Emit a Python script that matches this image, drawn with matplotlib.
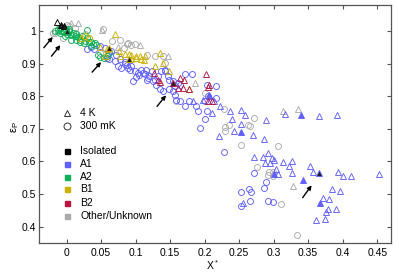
import matplotlib
matplotlib.use("Agg")
import matplotlib.pyplot as plt
from matplotlib.ticker import FuncFormatter

plt.rcParams['font.family'] = ['Liberation Sans', 'DejaVu Sans']
plt.rcParams['mathtext.fontset'] = 'custom'
plt.rcParams['mathtext.rm'] = 'Liberation Sans'
plt.rcParams['mathtext.it'] = 'Liberation Sans:italic'

# ---- data ----
# A2 (green)
a2_circ_x = [-0.017, -0.013, -0.010, -0.007, -0.004, -0.001, 0.000, 0.003, 0.006, 0.009,
             0.012, 0.014, 0.017, 0.020, 0.023, 0.026, 0.029, 0.032, 0.035, 0.038,
             0.041, 0.043, 0.019, 0.013, 0.030, 0.049, 0.054, 0.058, 0.062, 0.046,
             0.007, 0.025, 0.036, -0.003, 0.004, -0.010]
a2_circ_y = [0.999, 1.005, 0.993, 1.002, 0.996, 1.005, 0.990, 0.999, 0.987, 0.993,
             0.984, 0.990, 0.981, 0.974, 0.984, 0.971, 0.978, 0.965, 0.968, 0.959,
             0.962, 0.956, 0.965, 0.974, 1.002, 0.922, 0.916, 0.925, 0.934, 0.928,
             0.974, 0.962, 0.953, 0.984, 1.005, 1.008]
a2_tri_x = [-0.012, -0.006, 0.002, 0.008, 0.016]
a2_tri_y = [1.003, 0.999, 0.996, 0.990, 0.985]

# A1 (blue)
a1_circ_x = [0.029, 0.048, 0.055, 0.065, 0.072, 0.077, 0.084, 0.089, 0.094, 0.099,
             0.103, 0.108, 0.113, 0.118, 0.123, 0.125, 0.132, 0.130, 0.143, 0.147,
             0.154, 0.161, 0.164, 0.171, 0.181, 0.157, 0.159, 0.172, 0.188, 0.190,
             0.193, 0.154, 0.135, 0.116, 0.096, 0.074, 0.079, 0.058, 0.062, 0.070,
             0.142, 0.128, 0.149, 0.149, 0.157, 0.178, 0.200, 0.205, 0.217, 0.164,
             0.140, 0.137, 0.203, 0.216, 0.203, 0.200, 0.228, 0.271, 0.289, 0.286,
             0.252, 0.264, 0.267, 0.252, 0.266, 0.292, 0.299, 0.085, 0.092, 0.105,
             0.110, 0.120, 0.101, 0.115, 0.087, 0.060, 0.040, 0.035]
a1_circ_y = [0.946, 0.954, 0.949, 0.938, 0.928, 0.913, 0.898, 0.887, 0.892, 0.877,
             0.872, 0.882, 0.867, 0.857, 0.877, 0.846, 0.862, 0.836, 0.877, 0.862,
             0.846, 0.841, 0.836, 0.867, 0.867, 0.805, 0.790, 0.769, 0.769, 0.754,
             0.703, 0.815, 0.821, 0.850, 0.846, 0.892, 0.887, 0.918, 0.913, 0.908,
             0.882, 0.851, 0.851, 0.821, 0.831, 0.785, 0.785, 0.800, 0.795, 0.785,
             0.815, 0.877, 0.836, 0.831, 0.755, 0.730, 0.628, 0.566, 0.538, 0.520,
             0.507, 0.515, 0.505, 0.464, 0.480, 0.480, 0.476, 0.905, 0.880, 0.865,
             0.870, 0.862, 0.860, 0.880, 0.895, 0.930, 0.944, 0.950]
a1_tri_x = [0.198, 0.222, 0.237, 0.253, 0.259, 0.211, 0.289, 0.317, 0.366, 0.392,
            0.240, 0.253, 0.242, 0.270, 0.183, 0.214, 0.221, 0.286, 0.271, 0.285,
            0.292, 0.297, 0.301, 0.287, 0.294, 0.314, 0.322, 0.327, 0.326, 0.303,
            0.307, 0.352, 0.357, 0.393, 0.401, 0.412, 0.452, 0.384, 0.396, 0.372,
            0.380, 0.379, 0.376, 0.390, 0.361, 0.375, 0.255, 0.207]
a1_tri_y = [0.790, 0.769, 0.754, 0.759, 0.744, 0.749, 0.726, 0.747, 0.741, 0.742,
            0.730, 0.716, 0.692, 0.680, 0.785, 0.785, 0.677, 0.669, 0.615, 0.615,
            0.626, 0.610, 0.605, 0.595, 0.595, 0.598, 0.587, 0.603, 0.564, 0.578,
            0.562, 0.587, 0.567, 0.569, 0.554, 0.554, 0.563, 0.515, 0.511, 0.487,
            0.484, 0.454, 0.446, 0.454, 0.421, 0.423, 0.474, 0.800]
a1_fill_x = [0.207, 0.253, 0.340, 0.343, 0.367, 0.301]
a1_fill_y = [0.805, 0.689, 0.742, 0.542, 0.474, 0.562]

# B1 (yellow)
b1_tri_x = [0.070, 0.021, 0.076, 0.084, 0.094, 0.101, 0.108, 0.112, 0.135, 0.128,
            0.149, 0.048, 0.106, 0.113, 0.101, 0.094, 0.140, 0.055, 0.058, 0.091,
            0.077, 0.178]
b1_tri_y = [0.990, 0.980, 0.938, 0.931, 0.928, 0.925, 0.915, 0.910, 0.934, 0.894,
            0.879, 0.951, 0.923, 0.923, 0.918, 0.913, 0.903, 0.923, 0.944, 0.930,
            0.923, 0.821]
b1_circ_x = [0.032, 0.026]
b1_circ_y = [0.978, 0.985]

# B2 (red)
b2_tri_x = [0.164, 0.170, 0.161, 0.169, 0.178, 0.202, 0.206, 0.205, 0.211, 0.132,
            0.135, 0.126, 0.205]
b2_tri_y = [0.857, 0.851, 0.826, 0.826, 0.821, 0.867, 0.834, 0.785, 0.785, 0.851,
            0.844, 0.870, 0.829]

# Other / Unknown (gray)
oth_circ_x = [0.000, 0.004, 0.012, -0.005, -0.020, 0.014, 0.027, 0.066, 0.089, 0.094,
              0.099, 0.083, 0.116, 0.140, 0.142, 0.048, 0.058, 0.128, 0.200, 0.159,
              0.087, 0.077, 0.053, 0.272, 0.228, 0.236, 0.229, 0.229, 0.263, 0.265,
              0.252, 0.307, 0.276, 0.293, 0.299, 0.299, 0.292, 0.310, 0.334, -0.017]
oth_circ_y = [1.020, 1.017, 1.010, 0.980, 0.995, 0.995, 0.990, 0.969, 0.964, 0.957,
              0.961, 0.949, 0.928, 0.923, 0.903, 0.934, 0.925, 0.923, 0.810, 0.785,
              0.959, 0.974, 1.005, 0.734, 0.761, 0.713, 0.706, 0.695, 0.713, 0.708,
              0.651, 0.646, 0.582, 0.569, 0.569, 0.554, 0.559, 0.470, 0.374, 0.995]
oth_tri_x = [0.007, 0.017, 0.051, 0.074, 0.106, 0.147, 0.186, 0.335, 0.313, 0.328]
oth_tri_y = [1.026, 1.024, 1.003, 0.951, 0.956, 0.925, 0.841, 0.761, 0.756, 0.525]

# isolated (filled dark triangles), with the group whose colour rims them
iso_x = [-0.008, -0.004, 0.001, 0.062, 0.091, 0.154, 0.366]
iso_y = [1.020, 1.015, 0.999, 0.949, 0.915, 0.841, 0.564]
iso_group = ['none', 'none', 'A2', 'B1', 'B1', 'B2', 'A1']
iso_open_x = [-0.0135]
iso_open_y = [1.028]

# arrows: (tail x, tail y, head x, head y)
arrows = [(-0.033, 0.949, -0.020, 0.982),
          (-0.022, 0.923, -0.009, 0.957),
          (0.037, 0.874, 0.050, 0.905),
          (0.131, 0.769, 0.144, 0.803),
          (0.342, 0.489, 0.355, 0.527)]

groups = ['Isolated', 'A1', 'A2', 'B1', 'B2', 'Other/Unknown']
colors = {'Isolated': '#000000', 'A1': '#6060ff', 'A2': '#10b058',
          'B1': '#cdb000', 'B2': '#b8143f', 'Other/Unknown': '#ababab', 'none': '#000000'}

fig = plt.figure(figsize=(3.99, 2.72), dpi=100)
ax = fig.add_axes([39/399, 29/272, 352/399, 238/272])

ms = 4.3
lw = 0.65

def pts(x, y, m, c, fill=False, z=2):
    ax.plot(x, y, ls='none', marker=m, ms=ms, mec=c, mfc=c if fill else 'none', mew=lw, zorder=z)

pts(oth_circ_x, oth_circ_y, 'o', colors['Other/Unknown'])
pts(oth_tri_x, oth_tri_y, '^', colors['Other/Unknown'])
pts(a1_circ_x, a1_circ_y, 'o', colors['A1'])
pts(a1_tri_x, a1_tri_y, '^', colors['A1'])
pts(a1_fill_x, a1_fill_y, '^', colors['A1'], fill=True)
pts(a2_circ_x, a2_circ_y, 'o', colors['A2'], z=3)
pts(a2_tri_x, a2_tri_y, '^', colors['A2'], z=3)
pts(b1_circ_x, b1_circ_y, 'o', colors['B1'], z=3)
pts(b1_tri_x, b1_tri_y, '^', colors['B1'], z=3)
pts(b2_tri_x, b2_tri_y, '^', colors['B2'], z=3)
for x, y, g in zip(iso_x, iso_y, iso_group):
    ax.plot([x], [y], ls='none', marker='^', ms=ms, mfc='#202020', mec=colors[g], mew=lw, zorder=4)
pts(iso_open_x, iso_open_y, '^', 'black', z=4)

for tx, ty, hx, hy in arrows:
    ax.annotate('', xy=(hx, hy), xytext=(tx, ty),
                arrowprops=dict(arrowstyle='-|>', color='black', lw=1.0, mutation_scale=6,
                                shrinkA=0, shrinkB=0))

# legend drawn by hand
fs = 7.5
lx, tx_ = 0.0795, 0.1165
ax.plot([lx], [0.546], transform=ax.transAxes, marker='^', ms=5, mfc='none', mec='#333333', mew=0.7)
ax.text(tx_, 0.546, '4 K', transform=ax.transAxes, va='center', fontsize=fs)
ax.plot([lx], [0.4916], transform=ax.transAxes, marker='o', ms=5, mfc='none', mec='#333333', mew=0.7)
ax.text(tx_, 0.4916, '300 mK', transform=ax.transAxes, va='center', fontsize=fs)
ly = [0.3866, 0.332, 0.277, 0.227, 0.168, 0.113]
for g, y in zip(groups, ly):
    ax.plot([lx], [y], transform=ax.transAxes, marker='s', ms=3.6, mfc=colors[g], mec=colors[g])
    ax.text(tx_, y, g, transform=ax.transAxes, va='center', fontsize=fs)

ax.set_xlim(-0.04, 0.47)
ax.set_ylim(0.35, 1.08)
ax.set_xticks([0, 0.05, 0.1, 0.15, 0.2, 0.25, 0.3, 0.35, 0.4, 0.45])
ax.set_yticks([0.4, 0.5, 0.6, 0.7, 0.8, 0.9, 1.0])
fmt = FuncFormatter(lambda v, p: '%g' % v)
ax.xaxis.set_major_formatter(fmt)
ax.yaxis.set_major_formatter(fmt)
ax.tick_params(direction='in', top=True, right=True, length=3, width=0.8,
               labelsize=fs, color='#555555')
ax.tick_params(axis='x', pad=3.5)
ax.tick_params(axis='y', pad=2.2)
for s in ax.spines.values():
    s.set_color('#555555')
    s.set_linewidth(0.9)

ax.set_xlabel('X$^*$', fontsize=fs)
ax.xaxis.set_label_coords(0.494, -0.062)
ax.set_ylabel('ε$_\\mathrm{P}$', fontsize=fs + 0.5)
ax.yaxis.set_label_coords(-0.052, 0.487)

fig.savefig('out.png', dpi=100)
